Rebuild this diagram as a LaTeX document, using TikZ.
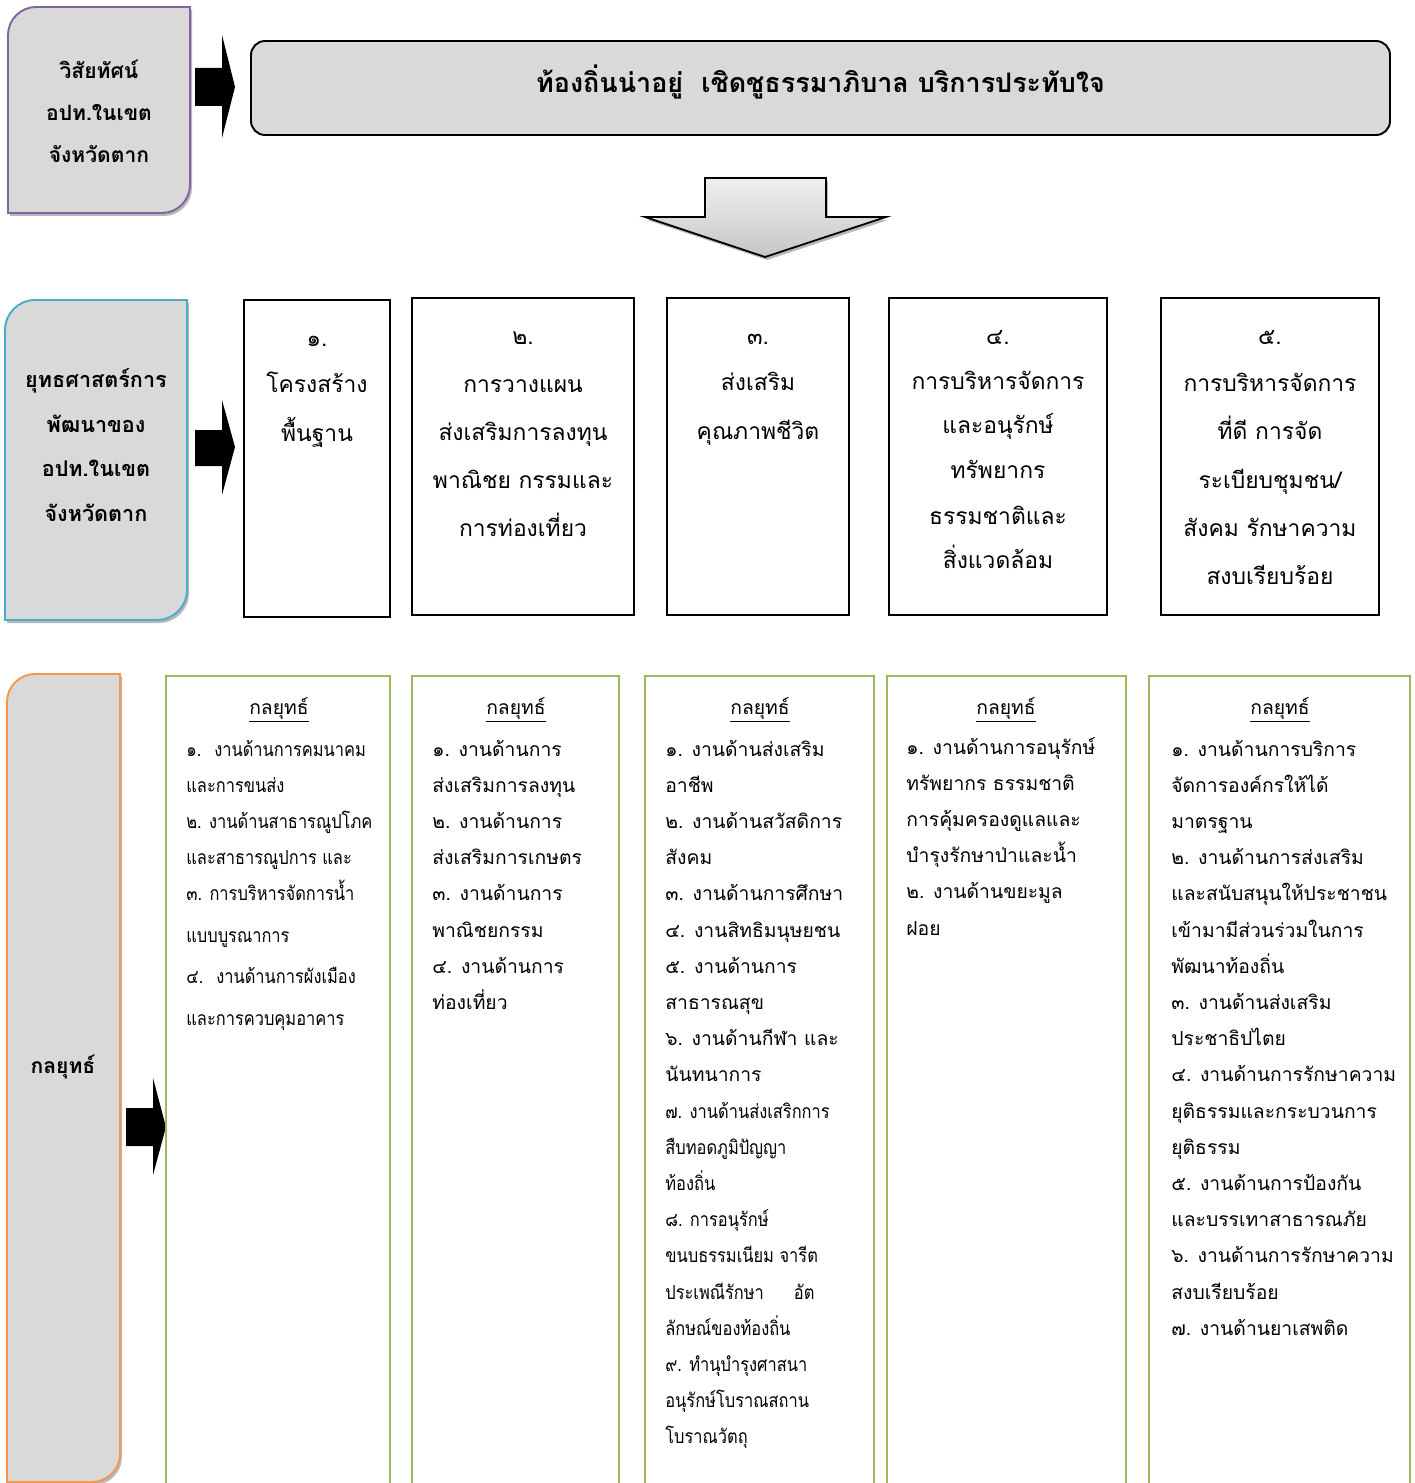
\documentclass[tikz,border=0pt]{standalone}
\usepackage{fontspec}
\setmainfont[Script=Thai]{Loma}
\newfontfamily\narrowthai[Script=Thai, FakeStretch=0.85]{Loma}
\usetikzlibrary{positioning}

\definecolor{boxgray}{HTML}{D9D9D9}
\definecolor{visionline}{HTML}{8064A2}
\definecolor{stratline}{HTML}{4BACC6}
\definecolor{tacline}{HTML}{F79646}
\definecolor{colline}{HTML}{9BBB59}

\newcommand{\unitpx}{0.02cm}

% left label box: rounded top-left and bottom-right corners
% #1 x0, #2 y0, #3 x1, #4 y1, #5 radius, #6 colour
\newcommand{\labelshape}[6]{%
  \fill[gray!55, shift={(2,3)}] (#1,#4) -- (#1,#2+#5)
    .. controls (#1,#2+0.45*#5) and (#1+0.45*#5,#2) .. (#1+#5,#2)
    -- (#3,#2) -- (#3,#4-#5)
    .. controls (#3,#4-0.45*#5) and (#3-0.45*#5,#4) .. (#3-#5,#4) -- cycle;
  \draw[labelbox, draw=#6] (#1,#4) -- (#1,#2+#5)
    .. controls (#1,#2+0.45*#5) and (#1+0.45*#5,#2) .. (#1+#5,#2)
    -- (#3,#2) -- (#3,#4-#5)
    .. controls (#3,#4-0.45*#5) and (#3-0.45*#5,#4) .. (#3-#5,#4) -- cycle;
}

\tikzset{
  labelbox/.style={fill=boxgray, line width=1.1pt},
  labeltext/.style={font=\bfseries\fontsize{12}{23.8}\selectfont, align=center, inner sep=0pt},
  titlebox/.style={draw, fill=boxgray, rounded corners=8pt, line width=1.1pt,
    minimum width=1139*\unitpx, minimum height=94*\unitpx,
    font=\bfseries\fontsize{15.3}{18}\selectfont},
  stratbox/.style={draw, line width=1.1pt, minimum height=317*\unitpx},
  colbox/.style={draw=colline, line width=0.8pt, minimum height=824*\unitpx},
  stext/.style={font=\fontsize{13}{16}\selectfont, anchor=base, inner sep=0pt},
  ttext/.style={font=\fontsize{11}{14}\selectfont, anchor=base west, inner sep=0pt},
  tnarrow/.style={ttext, font=\narrowthai\fontsize{11}{14}\selectfont},
  thead/.style={font=\fontsize{11}{14}\selectfont, anchor=base, inner sep=0pt},
  blockarrow/.style={fill=black},
}

\begin{document}
\begin{tikzpicture}[x=0.02cm, y=-0.02cm]
  \useasboundingbox (0,0) rectangle (1414,1483);

  % Left labels
  \labelshape{8}{7}{190}{213}{28}{visionline}
  \node[labeltext] (vision) at (99,111) {วิสัยทัศน์\\อปท.ในเขต\\จังหวัดตาก};

  \labelshape{5}{300}{187}{620}{30}{stratline}
  \node[labeltext, font=\bfseries\fontsize{12.3}{25.5}\selectfont] (strategy) at (96,445)
    {ยุทธศาสตร์การ\\พัฒนาของ\\อปท.ในเขต\\จังหวัดตาก};

  \labelshape{7}{674}{120}{1482}{28}{tacline}
  \node[labeltext] (tactic) at (63,1067) {กลยุทธ์};

  % Block arrows
  \fill[blockarrow] (195,68) -- (222,68) -- (222,35) -- (235,87) -- (222,138) -- (222,106) -- (195,106) -- cycle;
  \fill[blockarrow] (195,430) -- (222,430) -- (222,400) -- (235,447) -- (222,495) -- (222,466) -- (195,466) -- cycle;
  \fill[blockarrow] (126,1108) -- (153,1108) -- (153,1078) -- (166,1127) -- (153,1175) -- (153,1146) -- (126,1146) -- cycle;

  % Vision
  \node[titlebox] (title) at (820.5,88) {\raisebox{0.36cm}{ท้องถิ่นน่าอยู่~~เชิดชูธรรมาภิบาล บริการประทับใจ}};

  % Down arrow
  \fill[gray!55] (707,181) -- (828,181) -- (828,220) -- (888,220) -- (767,260) -- (647,220) -- (707,220) -- cycle;
  \draw[line width=1pt, top color=gray!12, bottom color=gray!45]
    (705,178) -- (826,178) -- (826,217) -- (886,217) -- (765,257) -- (645,217) -- (705,217) -- cycle;

  % Strategy boxes
  \node[stratbox, minimum width=146*\unitpx] (s1) at (317,458.5) {};
  \node[stratbox, minimum width=222*\unitpx] (s2) at (523,456.5) {};
  \node[stratbox, minimum width=182*\unitpx] (s3) at (758,456.5) {};
  \node[stratbox, minimum width=218*\unitpx] (s4) at (998,456.5) {};
  \node[stratbox, minimum width=218*\unitpx] (s5) at (1270,456.5) {};

  \foreach \y/\t [count=\i] in {346/๑., 392/โครงสร้าง, 441/พื้นฐาน}
    \node[stext] (s1-\i) at (317,\y) {\t};
  \foreach \y/\t [count=\i] in {344/๒., 392/การวางแผน, 440/ส่งเสริมการลงทุน, 488/พาณิชย กรรมและ, 536/การท่องเที่ยว}
    \node[stext] (s2-\i) at (523,\y) {\t};
  \foreach \y/\t [count=\i] in {344/๓., 390/ส่งเสริม, 439/คุณภาพชีวิต}
    \node[stext] (s3-\i) at (758,\y) {\t};
  \foreach \y/\t [count=\i] in {344/๔., 389/การบริหารจัดการ, 433/และอนุรักษ์, 478/ทรัพยากร, 524/ธรรมชาติและ, 568/สิ่งแวดล้อม}
    \node[stext] (s4-\i) at (998,\y) {\t};
  \foreach \y/\t [count=\i] in {344/๕., 391/การบริหารจัดการ, 439/ที่ดี การจัด, 488/{ระเบียบชุมชน/}, 536/สังคม รักษาความ, 584/สงบเรียบร้อย}
    \node[stext] (s5-\i) at (1270,\y) {\t};

  % Tactic columns
  \node[colbox, minimum width=224*\unitpx] (c1) at (278,1088) {};
  \node[colbox, minimum width=207*\unitpx] (c2) at (515.5,1088) {};
  \node[colbox, minimum width=229*\unitpx] (c3) at (759.5,1088) {};
  \node[colbox, minimum width=239*\unitpx] (c4) at (1006.5,1088) {};
  \node[colbox, minimum width=261*\unitpx] (c5) at (1279.5,1088) {};

  \foreach \x [count=\i] in {279,516,760,1006,1280}
    \node[thead] (h\i) at (\x,714) {\underline{กลยุทธ์}};

  \foreach \y/\t [count=\i] in {756/{๑.~ งานด้านการคมนาคม}, 792/และการขนส่ง, 828/๒. งานด้านสาธารณูปโภค,
      864/และสาธารณูปการ และ, 900/๓. การบริหารจัดการน้ำ, 942/แบบบูรณาการ,
      983/{๔.~ งานด้านการผังเมือง}, 1025/และการควบคุมอาคาร}
    \node[tnarrow] (t1-\i) at (186,\y) {\t};

  \foreach \t [count=\i] in {๑. งานด้านการ, ส่งเสริมการลงทุน, ๒. งานด้านการ, ส่งเสริมการเกษตร,
      ๓. งานด้านการ, พาณิชยกรรม, ๔. งานด้านการ, ท่องเที่ยว} {
    \pgfmathsetmacro{\yb}{756+36.2*(\i-1)}
    \node[ttext] (t2-\i) at (432,\yb) {\t};
  }

  \foreach \t [count=\i] in {๑. งานด้านส่งเสริม, อาชีพ, ๒. งานด้านสวัสดิการ, สังคม,
      ๓. งานด้านการศึกษา, ๔. งานสิทธิมนุษยชน, ๕. งานด้านการ, สาธารณสุข,
      ๖. งานด้านกีฬา และ, นันทนาการ} {
    \pgfmathsetmacro{\yb}{756+36.2*(\i-1)}
    \node[ttext] (t3-\i) at (665,\yb) {\t};
  }
  \foreach \t [count=\i from 11] in {๗. งานด้านส่งเสริกการ, สืบทอดภูมิปัญญา,
      ท้องถิ่น, ๘. การอนุรักษ์, ขนบธรรมเนียม จารีต, {ประเพณีรักษา\hspace{0.6cm}อัต},
      ลักษณ์ของท้องถิ่น, ๙. ทำนุบำรุงศาสนา, อนุรักษ์โบราณสถาน, โบราณวัตถุ} {
    \pgfmathsetmacro{\yb}{756+36.2*(\i-1)}
    \node[tnarrow] (t3-\i) at (665,\yb) {\t};
  }

  \foreach \t [count=\i] in {๑. งานด้านการอนุรักษ์, ทรัพยากร ธรรมชาติ, การคุ้มครองดูแลและ,
      บำรุงรักษาป่าและน้ำ, ๒. งานด้านขยะมูล, ฝอย} {
    \pgfmathsetmacro{\yb}{754+36.2*(\i-1)}
    \node[ttext] (t4-\i) at (906,\yb) {\t};
  }

  \foreach \t [count=\i] in {๑. งานด้านการบริการ, จัดการองค์กรให้ได้, มาตรฐาน,
      ๒. งานด้านการส่งเสริม, และสนับสนุนให้ประชาชน, เข้ามามีส่วนร่วมในการ, พัฒนาท้องถิ่น,
      ๓. งานด้านส่งเสริม, ประชาธิปไตย, ๔. งานด้านการรักษาความ, ยุติธรรมและกระบวนการ,
      ยุติธรรม, ๕. งานด้านการป้องกัน, และบรรเทาสาธารณภัย, ๖. งานด้านการรักษาความ,
      สงบเรียบร้อย, ๗. งานด้านยาเสพติด} {
    \pgfmathsetmacro{\yb}{756+36.2*(\i-1)}
    \node[ttext] (t5-\i) at (1171,\yb) {\t};
  }
\end{tikzpicture}
\end{document}
